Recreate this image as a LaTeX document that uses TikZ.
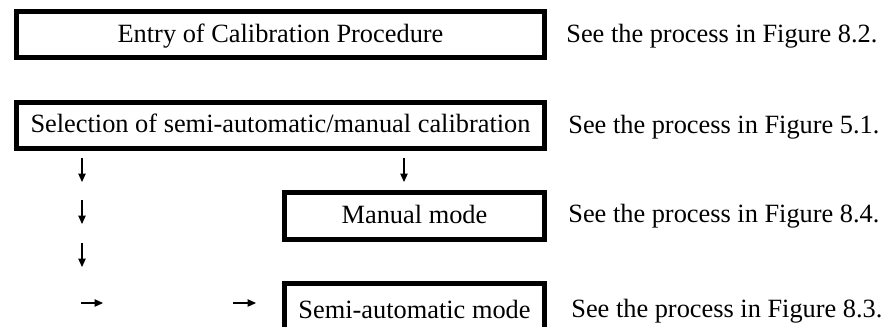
\documentclass[tikz,border=0pt]{standalone}
\usepackage{fontspec}
\setmainfont{Liberation Serif}
\usepackage{tikz}
\usetikzlibrary{arrows.meta,positioning}

\tikzset{
  stepbox/.style={draw, line width=0.1cm, inner sep=0pt,
    text height=12pt, text depth=3.3pt, font=\fontsize{15}{18}\selectfont},
  seetext/.style={anchor=base west, inner sep=0pt, font=\fontsize{15}{18}\selectfont},
  glyph/.style={line width=0.6pt, -{Triangle[length=0.17cm, width=0.15cm]}}
}

\begin{document}
\begin{tikzpicture}
  \useasboundingbox (0,0) rectangle (17.76,-6.52);
  \clip (0,0) rectangle (17.76,-6.52);

  % Entry and selection
  \node[stepbox, minimum width=10.56cm, minimum height=0.92cm] (entry) at (5.61,-0.69) {Entry of Calibration Procedure};
  \node[stepbox, minimum width=10.56cm, minimum height=0.92cm] (select) at (5.61,-2.5) {Selection of semi-automatic/manual calibration};

  % Modes
  \node[stepbox, minimum width=5.2cm, minimum height=0.94cm] (manual) at (8.29,-4.32) {Manual mode};
  \node[stepbox, minimum width=5.2cm, minimum height=1.1cm] (semi) at (8.29,-6.22) {Semi-automatic mode};

  % References
  \node[seetext] (see82) at (11.32,-0.84) {See the process in Figure 8.2.};
  \node[seetext] (see51) at (11.36,-2.66) {See the process in Figure 5.1.};
  \node[seetext] (see84) at (11.36,-4.44) {See the process in Figure 8.4.};
  \node[seetext] (see83) at (11.42,-6.34) {See the process in Figure 8.3.};

  % Arrow marks
  \draw[glyph] (1.64,-3.16) -- (1.64,-3.64);
  \draw[glyph] (8.08,-3.16) -- (8.08,-3.64);
  \draw[glyph] (1.64,-4.0) -- (1.64,-4.48);
  \draw[glyph] (1.64,-4.86) -- (1.64,-5.34);
  \draw[glyph] (1.62,-6.06) -- (2.06,-6.06);
  \draw[glyph] (4.66,-6.06) -- (5.12,-6.06);
\end{tikzpicture}
\end{document}
